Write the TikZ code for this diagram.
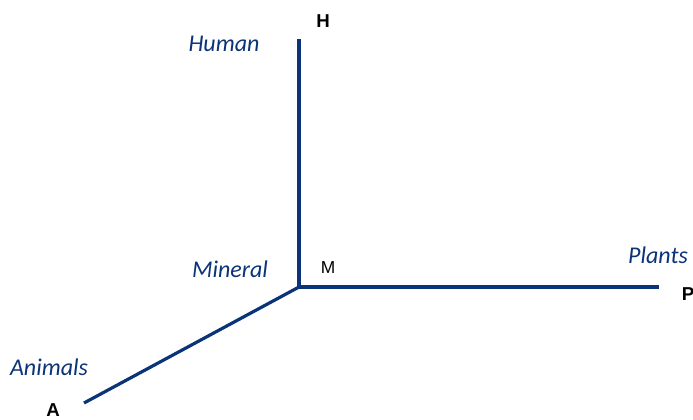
\documentclass[tikz,border=0pt]{standalone}
\usepackage{fontspec}
\setmainfont{Carlito}
\newfontfamily\arialfont{Liberation Sans}
\usetikzlibrary{positioning}
\definecolor{axisblue}{HTML}{0B3478}
\begin{document}
\begin{tikzpicture}[x=0.75pt,y=-0.75pt,
  axis/.style={draw=axisblue,line width=2.4pt},
  kingdom/.style={font=\fontsize{18}{21}\selectfont\itshape,text=axisblue,inner sep=0pt},
  letter/.style={font=\arialfont\fontsize{14}{16}\selectfont\bfseries,inner sep=0pt},
  origin/.style={font=\arialfont\fontsize{13}{15}\selectfont,inner sep=0pt}]
\useasboundingbox (0,0) rectangle (693,419);
% three axes from the mineral point
\coordinate (m) at (299,287);
\coordinate (h) at (299,39);
\coordinate (p) at (659,287);
\coordinate (a) at (84,403);
\draw[axis] (h) -- (m) -- (p);
\draw[axis] (m) -- (a);
% end letters
\node[letter] (hlabel) at (323,21) {H};
\node[letter] (plabel) at (688,294) {P};
\node[letter] (alabel) at (53,410) {A};
\node[origin] (mlabel) at (328,268) {M};
% kingdom names
\node[kingdom] (human) at (224,44) {Human};
\node[kingdom] (mineral) at (230,269) {Mineral};
\node[kingdom] (plants) at (658,255) {Plants};
\node[kingdom] (animals) at (49,367) {Animals};
\end{tikzpicture}
\end{document}
